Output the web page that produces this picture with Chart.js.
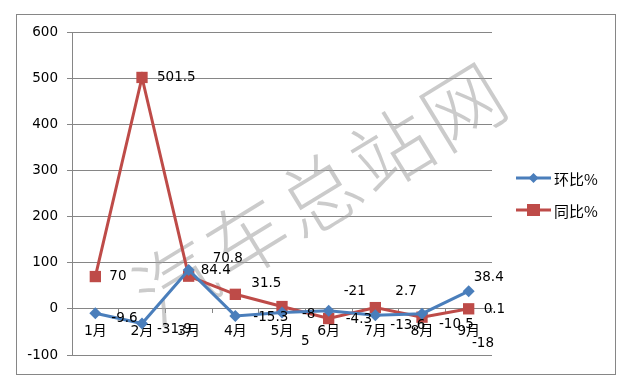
<!DOCTYPE html>
<html>
<head>
<meta charset="utf-8">
<script src="https://cdn.jsdelivr.net/npm/chart.js@4.4.1/dist/chart.umd.min.js"></script>
<style>
  html, body { margin: 0; padding: 0; background: #fff; }
  #wrap { width: 632px; height: 385px; }
</style>
</head>
<body>
<div id="wrap"><canvas id="myChart" width="632" height="385"></canvas></div>
<script>
// Data
const months = ['1月', '2月', '3月', '4月', '5月', '6月', '7月', '8月', '9月'];
const huanbi = [-9.6, -31.9, 84.4, -15.3, -8, -4.3, -13.6, -10.5, 38.4];
const tongbi = [70, 501.5, 70.8, 31.5, 5, -21, 2.7, -18, 0.1];
const yTicks = [-100, 0, 100, 200, 300, 400, 500, 600];

const BLUE = '#4A7EBB';
const RED = '#BE4B48';
const GRID = '#868686';
const FONT = "'DejaVu Sans', 'Noto Sans CJK SC', sans-serif";

// label nudges (excel labels were dragged around by hand)
const blueNudge = [[16, 5], [15, 6], [12, 1], [18, 2], [20, 2], [17, 9], [15, 10], [17, 11], [5, -14]];
const redNudge = [[14, 0], [15, 0], [24, -18], [16, -11], [19, 35], [15, -27], [20, -16], [50, 26], [15, 1]];

// white page + grey outer frame
const frame = {
    id: 'frame',
    beforeDraw(chart) {
        const c = chart.ctx;
        c.save();
        c.fillStyle = '#fff';
        c.fillRect(0, 0, chart.width, chart.height);
        c.strokeStyle = GRID;
        c.lineWidth = 1;
        c.strokeRect(16.5, 14.5, 599, 360);
        c.restore();
    }
};

// faint site watermark behind the lines
const watermark = {
    id: 'watermark',
    beforeDatasetsDraw(chart) {
        const c = chart.ctx;
        const chars = '汽车总站网'.split('');
        c.save();
        c.fillStyle = 'rgba(160,160,160,0.55)';
        c.font = "200 80px 'Noto Sans CJK SC'";
        c.textAlign = 'center';
        c.textBaseline = 'middle';
        chars.forEach(function (ch, i) {
            c.save();
            c.translate(175 + i * 72, 282 - i * 44);
            c.rotate(-0.55);
            c.fillText(ch, 0, 0);
            c.restore();
        });
        c.restore();
    }
};

// value labels beside each point
const valueLabels = {
    id: 'valueLabels',
    afterDatasetsDraw(chart) {
        const c = chart.ctx;
        c.save();
        c.font = '13.5px ' + FONT;
        c.fillStyle = '#000';
        c.textAlign = 'left';
        c.textBaseline = 'middle';
        chart.data.datasets.forEach(function (ds, di) {
            const nudge = di === 0 ? blueNudge : redNudge;
            chart.getDatasetMeta(di).data.forEach(function (pt, i) {
                c.fillText(String(ds.data[i]), pt.x + nudge[i][0], pt.y + nudge[i][1]);
            });
        });
        c.restore();
    }
};

// legend on the right: line with marker, then name
const sideLegend = {
    id: 'sideLegend',
    afterDraw(chart) {
        const c = chart.ctx;
        const items = [
            { text: '环比%', color: BLUE, y: 178, shape: 'diamond' },
            { text: '同比%', color: RED, y: 210, shape: 'square' }
        ];
        c.save();
        items.forEach(function (it) {
            c.strokeStyle = it.color;
            c.lineWidth = 3;
            c.beginPath();
            c.moveTo(516, it.y);
            c.lineTo(551, it.y);
            c.stroke();
            c.fillStyle = it.color;
            if (it.shape === 'diamond') {
                c.beginPath();
                c.moveTo(533.5, it.y - 5);
                c.lineTo(538.5, it.y);
                c.lineTo(533.5, it.y + 5);
                c.lineTo(528.5, it.y);
                c.closePath();
                c.fill();
            } else {
                c.fillRect(527, it.y - 6, 13, 12);
            }
            c.fillStyle = '#000';
            c.font = "15px 'Noto Sans CJK SC', sans-serif";
            c.textBaseline = 'middle';
            c.fillText(it.text, 554, it.y + 1);
        });
        c.restore();
    }
};

const chartArea = document.getElementById('myChart');

const chartContent = new Chart(chartArea, {
    type: 'line',
    data: {
        labels: months,
        datasets: [
            {
                label: '环比%',
                data: huanbi,
                borderColor: BLUE,
                backgroundColor: BLUE,
                borderWidth: 3,
                pointStyle: 'rectRot',
                pointRadius: 6,
                pointBorderWidth: 0,
                tension: 0
            },
            {
                label: '同比%',
                data: tongbi,
                borderColor: RED,
                backgroundColor: RED,
                borderWidth: 3,
                pointStyle: 'rect',
                pointRadius: 8,
                pointBorderWidth: 0,
                tension: 0
            }
        ]
    },
    options: {
        responsive: false,
        animation: false,
        layout: { padding: { left: 16, right: 140, top: 32, bottom: 30 } },
        plugins: {
            legend: { display: false },
            tooltip: { enabled: false }
        },
        scales: {
            x: {
                position: { y: 0 },
                offset: true,
                grid: {
                    offset: true,
                    drawOnChartArea: false,
                    drawTicks: true,
                    tickLength: 4,
                    color: GRID
                },
                border: { display: true, color: GRID },
                ticks: {
                    color: '#000',
                    font: { family: FONT, size: 14 },
                    padding: 10,
                    maxRotation: 0
                }
            },
            y: {
                min: -100,
                max: 600,
                afterFit: function (scale) { scale.width = 56; },
                afterBuildTicks: function (scale) {
                    scale.ticks = yTicks.map(function (v) { return { value: v }; });
                },
                grid: { color: GRID, tickLength: 5 },
                border: { display: true, color: GRID },
                ticks: {
                    color: '#000',
                    font: { family: FONT, size: 13.5 },
                    padding: 9
                }
            }
        }
    },
    plugins: [frame, watermark, valueLabels, sideLegend]
});
</script>
</body>
</html>
